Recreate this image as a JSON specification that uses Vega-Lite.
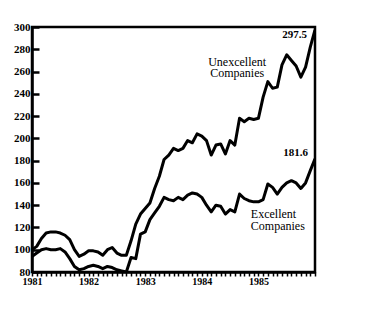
{
 "$schema": "https://vega.github.io/schema/vega-lite/v6.json",
 "width": 283, "height": 245,
 "autosize": {"type": "none"},
 "padding": {"left": 32, "top": 27, "right": 51, "bottom": 47},
 "background": "white",
 "config": {"view": {"stroke": "black", "strokeWidth": 2.5}, "font": "Liberation Serif", "axis": {"labelOverlap": false}},
 "datasets": {
  "series": [
   {"month":0,"value":100,"group":"U"},{"month":1,"value":103,"group":"U"},{"month":2,"value":110,"group":"U"},{"month":3,"value":115,"group":"U"},{"month":4,"value":116,"group":"U"},{"month":5,"value":116,"group":"U"},{"month":6,"value":115,"group":"U"},{"month":7,"value":113,"group":"U"},{"month":8,"value":109,"group":"U"},{"month":9,"value":100,"group":"U"},{"month":10,"value":94,"group":"U"},{"month":11,"value":96,"group":"U"},{"month":12,"value":99,"group":"U"},{"month":13,"value":99,"group":"U"},{"month":14,"value":98,"group":"U"},{"month":15,"value":95,"group":"U"},{"month":16,"value":100,"group":"U"},{"month":17,"value":102,"group":"U"},{"month":18,"value":97,"group":"U"},{"month":19,"value":95,"group":"U"},{"month":20,"value":95,"group":"U"},{"month":21,"value":108,"group":"U"},{"month":22,"value":123,"group":"U"},{"month":23,"value":132,"group":"U"},{"month":24,"value":137,"group":"U"},{"month":25,"value":142,"group":"U"},{"month":26,"value":155,"group":"U"},{"month":27,"value":166,"group":"U"},{"month":28,"value":181,"group":"U"},{"month":29,"value":185,"group":"U"},{"month":30,"value":191,"group":"U"},{"month":31,"value":189,"group":"U"},{"month":32,"value":191,"group":"U"},{"month":33,"value":198,"group":"U"},{"month":34,"value":196,"group":"U"},{"month":35,"value":204,"group":"U"},{"month":36,"value":202,"group":"U"},{"month":37,"value":198,"group":"U"},{"month":38,"value":185,"group":"U"},{"month":39,"value":194,"group":"U"},{"month":40,"value":195,"group":"U"},{"month":41,"value":186,"group":"U"},{"month":42,"value":198,"group":"U"},{"month":43,"value":194,"group":"U"},{"month":44,"value":218,"group":"U"},{"month":45,"value":215,"group":"U"},{"month":46,"value":218,"group":"U"},{"month":47,"value":217,"group":"U"},{"month":48,"value":218,"group":"U"},{"month":49,"value":237,"group":"U"},{"month":50,"value":251,"group":"U"},{"month":51,"value":245,"group":"U"},{"month":52,"value":246,"group":"U"},{"month":53,"value":266,"group":"U"},{"month":54,"value":275,"group":"U"},{"month":55,"value":270,"group":"U"},{"month":56,"value":265,"group":"U"},{"month":57,"value":255,"group":"U"},{"month":58,"value":264,"group":"U"},{"month":59,"value":282,"group":"U"},{"month":60,"value":297.5,"group":"U"},
   {"month":0,"value":94,"group":"E"},{"month":1,"value":97,"group":"E"},{"month":2,"value":100,"group":"E"},{"month":3,"value":101,"group":"E"},{"month":4,"value":100,"group":"E"},{"month":5,"value":100,"group":"E"},{"month":6,"value":101,"group":"E"},{"month":7,"value":98,"group":"E"},{"month":8,"value":92,"group":"E"},{"month":9,"value":85,"group":"E"},{"month":10,"value":82,"group":"E"},{"month":11,"value":83,"group":"E"},{"month":12,"value":85,"group":"E"},{"month":13,"value":86,"group":"E"},{"month":14,"value":85,"group":"E"},{"month":15,"value":83,"group":"E"},{"month":16,"value":85,"group":"E"},{"month":17,"value":84,"group":"E"},{"month":18,"value":82,"group":"E"},{"month":19,"value":81,"group":"E"},{"month":20,"value":80,"group":"E"},{"month":21,"value":93,"group":"E"},{"month":22,"value":92,"group":"E"},{"month":23,"value":114,"group":"E"},{"month":24,"value":116,"group":"E"},{"month":25,"value":127,"group":"E"},{"month":26,"value":133,"group":"E"},{"month":27,"value":139,"group":"E"},{"month":28,"value":147,"group":"E"},{"month":29,"value":145,"group":"E"},{"month":30,"value":144,"group":"E"},{"month":31,"value":147,"group":"E"},{"month":32,"value":145,"group":"E"},{"month":33,"value":149,"group":"E"},{"month":34,"value":151,"group":"E"},{"month":35,"value":150,"group":"E"},{"month":36,"value":147,"group":"E"},{"month":37,"value":140,"group":"E"},{"month":38,"value":134,"group":"E"},{"month":39,"value":140,"group":"E"},{"month":40,"value":139,"group":"E"},{"month":41,"value":132,"group":"E"},{"month":42,"value":136,"group":"E"},{"month":43,"value":134,"group":"E"},{"month":44,"value":150,"group":"E"},{"month":45,"value":146,"group":"E"},{"month":46,"value":144,"group":"E"},{"month":47,"value":143,"group":"E"},{"month":48,"value":143,"group":"E"},{"month":49,"value":145,"group":"E"},{"month":50,"value":159,"group":"E"},{"month":51,"value":156,"group":"E"},{"month":52,"value":150,"group":"E"},{"month":53,"value":156,"group":"E"},{"month":54,"value":160,"group":"E"},{"month":55,"value":162,"group":"E"},{"month":56,"value":160,"group":"E"},{"month":57,"value":155,"group":"E"},{"month":58,"value":160,"group":"E"},{"month":59,"value":171,"group":"E"},{"month":60,"value":181.6,"group":"E"}
  ]
 },
 "layer": [
  {
   "data": {"name": "series"},
   "mark": {"type": "line", "strokeWidth": 3, "color": "black", "strokeJoin": "round", "clip": true},
   "encoding": {
    "x": {"field": "month", "type": "quantitative", "scale": {"domain": [0, 60], "nice": false},
     "axis": {"title": null, "grid": false, "tickCount": 200,
      "values": [0,1,2,3,4,5,6,7,8,9,10,11,12,13,14,15,16,17,18,19,20,21,22,23,24,25,26,27,28,29,30,31,32,33,34,35,36,37,38,39,40,41,42,43,44,45,46,47,48,49,50,51,52,53,54,55,56,57,58,59,60],
      "labelExpr": "datum.value % 12 == 0 && datum.value < 60 ? '' + (1981 + datum.value / 12) : ''",
      "labelOverlap": false, "labelFlush": false,
      "tickSize": 4, "tickWidth": 1.5, "tickColor": "black",
      "domainColor": "black", "domainWidth": 2.5,
      "labelFont": "Liberation Serif", "labelFontWeight": "bold", "labelFontSize": 10, "labelColor": "black", "labelPadding": 0}},
    "y": {"field": "value", "type": "quantitative", "scale": {"domain": [80, 300], "nice": false, "zero": false},
     "axis": {"title": null, "grid": false, "tickCount": 50,
      "values": [80,100,120,140,160,180,200,220,240,260,280,300],
      "labelOverlap": false,
      "tickSize": -7, "tickWidth": 2.5, "tickColor": "black",
      "domainColor": "black", "domainWidth": 2.5,
      "labelFont": "Liberation Serif", "labelFontWeight": "bold", "labelFontSize": 11, "labelColor": "black", "labelPadding": 9}},
    "detail": {"field": "group"}
   }
  },
  {
   "data": {"values": [{"month": 58.3, "value": 293, "label": "297.5"}, {"month": 58.5, "value": 187, "label": "181.6"}]},
   "mark": {"type": "text", "align": "right", "baseline": "middle", "font": "Liberation Serif", "fontWeight": "bold", "fontSize": 11, "color": "black"},
   "encoding": {"x": {"field": "month", "type": "quantitative"}, "y": {"field": "value", "type": "quantitative"}, "text": {"field": "label"}}
  },
  {
   "data": {"values": [{"month": 43.5, "value": 268.7, "label": "Unexcellent\nCompanies"}]},
   "mark": {"type": "text", "align": "center", "baseline": "middle", "lineBreak": "\n", "lineHeight": 11, "font": "Liberation Serif", "fontSize": 12, "color": "black"},
   "encoding": {"x": {"field": "month", "type": "quantitative"}, "y": {"field": "value", "type": "quantitative"}, "text": {"field": "label"}}
  },
  {
   "data": {"values": [{"month": 46.4, "value": 131.7, "label": "Excellent\nCompanies"}]},
   "mark": {"type": "text", "align": "left", "baseline": "middle", "lineBreak": "\n", "lineHeight": 12, "font": "Liberation Serif", "fontSize": 12, "color": "black"},
   "encoding": {"x": {"field": "month", "type": "quantitative"}, "y": {"field": "value", "type": "quantitative"}, "text": {"field": "label"}}
  }
 ]
}
